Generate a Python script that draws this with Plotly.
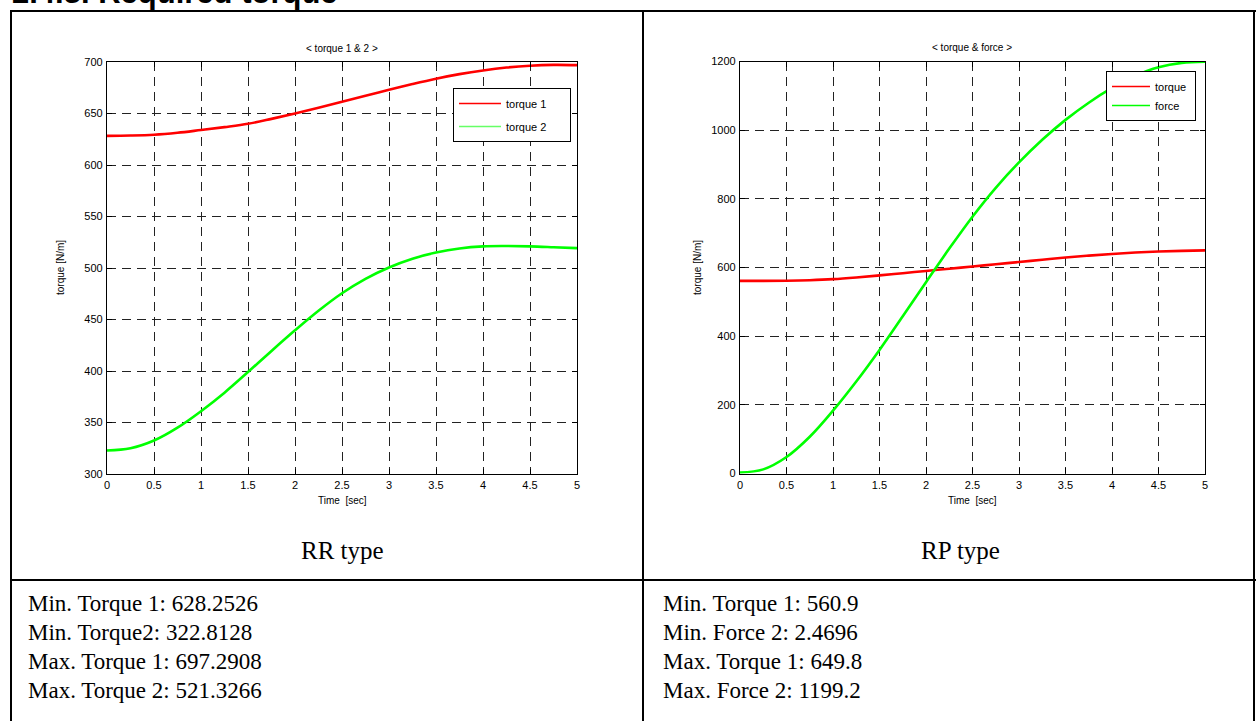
import plotly.graph_objects as go

W, H = 1256, 721


def px(x):
    return x / W


def py(y):
    return 1 - y / H


# ---------------- data ----------------
time_s = [0, 0.25, 0.5, 0.75, 1.0, 1.25, 1.5, 1.75, 2.0, 2.25, 2.5,
          2.75, 3.0, 3.25, 3.5, 3.75, 4.0, 4.25, 4.5, 4.75, 5.0]

rr_torque1 = [628.3, 628.6, 629.4, 631.3, 634.0, 636.8, 640.0, 644.8, 650.0, 655.6, 661.4,
              667.3, 673.0, 678.6, 683.8, 688.2, 691.8, 694.6, 696.4, 697.2, 697.0]
rr_torque2 = [322.8, 325.0, 332.5, 345.0, 361.0, 379.0, 399.0, 419.5, 439.5, 458.5, 475.5,
              489.5, 500.5, 509.0, 515.0, 519.0, 521.0, 521.3, 521.0, 520.2, 519.3]

rp_torque = [560.9, 561.0, 561.5, 563.0, 566.0, 571.0, 577.0, 583.5, 590.0, 596.5, 603.0,
             609.5, 616.0, 622.5, 629.0, 634.5, 639.5, 643.5, 646.5, 648.5, 649.8]
rp_force = [2.5, 12.0, 48.0, 107.0, 183.0, 268.0, 360.0, 458.0, 557.0, 655.0, 748.0,
            832.0, 906.0, 972.0, 1030.0, 1080.0, 1123.0, 1158.0, 1183.0, 1196.0, 1199.2]

rr_x_ticks = [0, 0.5, 1, 1.5, 2, 2.5, 3, 3.5, 4, 4.5, 5]
rr_y_ticks = [300, 350, 400, 450, 500, 550, 600, 650, 700]
rp_y_ticks = [0, 200, 400, 600, 800, 1000, 1200]

left_stats = ["Min. Torque 1: 628.2526", "Min. Torque2: 322.8128",
              "Max. Torque 1: 697.2908", "Max. Torque 2: 521.3266"]
right_stats = ["Min. Torque 1: 560.9", "Min. Force 2: 2.4696",
               "Max. Torque 1: 649.8", "Max. Force 2: 1199.2"]

RED = "#ff0000"
GREEN = "#00ff00"
SANS = "Liberation Sans, Arial, Helvetica, sans-serif"
SERIF = "Liberation Serif, Times New Roman, serif"
NB = "\u00a0"

fig = go.Figure()

# plotted curves
fig.add_trace(go.Scatter(x=time_s, y=rr_torque1, mode="lines", showlegend=False,
                         line=dict(color=RED, width=2.6, shape="spline"), xaxis="x", yaxis="y"))
fig.add_trace(go.Scatter(x=time_s, y=rr_torque2, mode="lines", showlegend=False,
                         line=dict(color=GREEN, width=2.6, shape="spline"), xaxis="x", yaxis="y"))
fig.add_trace(go.Scatter(x=time_s, y=rp_torque, mode="lines", showlegend=False,
                         line=dict(color=RED, width=2.6, shape="spline"), xaxis="x2", yaxis="y2"))
fig.add_trace(go.Scatter(x=time_s, y=rp_force, mode="lines", showlegend=False,
                         line=dict(color=GREEN, width=2.6, shape="spline"), xaxis="x2", yaxis="y2"))

# legend entries (thin sample lines as in the reference)
for name, col, leg, ax, ay, grp in [
    ("torque 1" + NB * 6, RED, "legend", "x", "y", "a"),
    ("torque 2" + NB * 6, "#66ff66", "legend", "x", "y", "b"),
    ("torque" + NB, RED, "legend2", "x2", "y2", "c"),
    ("force" + NB, GREEN, "legend2", "x2", "y2", "d"),
]:
    fig.add_trace(go.Scatter(x=[None], y=[None], mode="lines", name=name, legend=leg,
                             legendgroup=grp, line=dict(color=col, width=1.5),
                             xaxis=ax, yaxis=ay))

axis_common = dict(
    showline=True, linecolor="black", linewidth=1.2, mirror="allticks",
    ticks="inside", ticklen=5, tickcolor="black", tickwidth=1,
    showgrid=True, gridcolor="#222222", griddash="9px,6px", gridwidth=1,
    zeroline=False, tickfont=dict(family=SANS, size=11, color="black"),
    ticklabelstandoff=1, fixedrange=True, automargin=False,
)

fig.update_layout(
    width=W, height=H, autosize=False,
    margin=dict(l=0, r=0, t=0, b=0, pad=0, autoexpand=False),
    paper_bgcolor="white", plot_bgcolor="white",
    xaxis=dict(domain=[px(107), px(577)], range=[0, 5], tickvals=rr_x_ticks,
               anchor="y", **axis_common),
    yaxis=dict(domain=[py(474), py(62)], range=[300, 700], tickvals=rr_y_ticks,
               anchor="x", **axis_common),
    xaxis2=dict(domain=[px(740), px(1205)], range=[0, 5], tickvals=rr_x_ticks,
                anchor="y2", **axis_common),
    yaxis2=dict(domain=[py(473.5), py(61.5)], range=[0, 1200], tickvals=rp_y_ticks,
                anchor="x2", **axis_common),
    legend=dict(x=px(453), y=py(88), xanchor="left", yanchor="top",
                bgcolor="white", bordercolor="black", borderwidth=1,
                font=dict(family=SANS, size=11, color="black"),
                tracegroupgap=4, itemwidth=42, traceorder="grouped"),
    legend2=dict(x=px(1106), y=py(71), xanchor="left", yanchor="top",
                 bgcolor="white", bordercolor="black", borderwidth=1,
                 font=dict(family=SANS, size=11, color="black"),
                 tracegroupgap=0, itemwidth=38, traceorder="grouped"),
)


def note(text, x, y, size, family=SANS, xanchor="center", angle=0):
    return dict(text=text, x=px(x), y=py(y), xref="paper", yref="paper", showarrow=False,
                xanchor=xanchor, yanchor="middle", textangle=angle,
                font=dict(family=family, size=size, color="black"))


ann = []
# section header (cut off at the top, as in the source page)
ann.append(note("<b>2.4.3. Required torque</b>", 10, -8, 31, xanchor="left"))
# chart titles
ann.append(note("&lt; torque 1 &amp; 2 &gt;", 342, 49, 10))
ann.append(note("&lt; torque &amp; force &gt;", 972, 48, 10))
# axis titles
for cx in (342, 972):
    ann.append(note("Time" + NB + " [sec]", cx, 500, 10))
for cx in (60, 697):
    ann.append(note("torque [N/m]", cx, 268, 10, angle=-90))
# captions
ann.append(note("RR type", 342, 550, 25, family=SERIF))
ann.append(note("RP type", 960, 550, 25, family=SERIF))
# statistics rows
for i, (lt, rt) in enumerate(zip(left_stats, right_stats)):
    yy = 603 + 29 * i
    ann.append(note(lt, 26, yy, 23, family=SERIF, xanchor="left"))
    ann.append(note(rt, 661, yy, 23, family=SERIF, xanchor="left"))
fig.update_layout(annotations=ann)

# table rules
line_style = dict(color="black", width=2)
shapes = [
    dict(type="line", xref="paper", yref="paper", x0=px(11), x1=px(11), y0=py(11), y1=py(725), line=line_style),
    dict(type="line", xref="paper", yref="paper", x0=px(10), x1=px(1256), y0=py(11), y1=py(11), line=line_style),
    dict(type="line", xref="paper", yref="paper", x0=px(643), x1=px(643), y0=py(11), y1=py(725), line=line_style),
    dict(type="line", xref="paper", yref="paper", x0=px(1254), x1=px(1254), y0=py(11), y1=py(725), line=line_style),
    dict(type="line", xref="paper", yref="paper", x0=px(10), x1=px(1256), y0=py(580), y1=py(580), line=line_style),
]
fig.update_layout(shapes=shapes)

fig.write_html("out.html")
